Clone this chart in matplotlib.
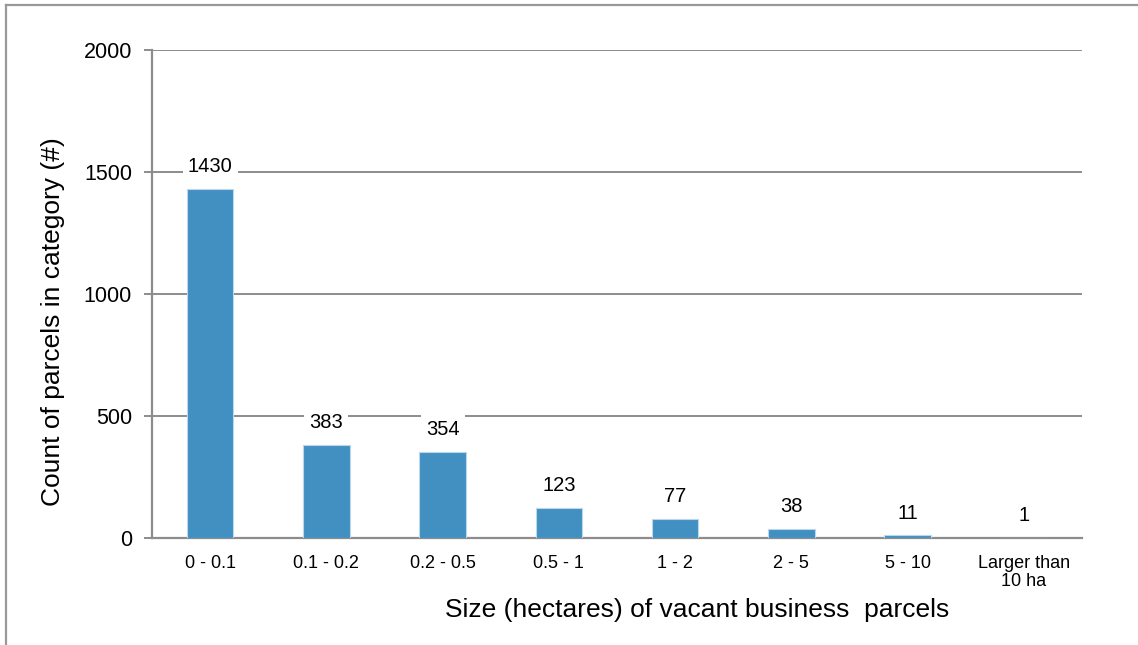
import numpy as np
import matplotlib.pyplot as plt
from matplotlib.lines import Line2D

plt.rcParams['font.family'] = ['Liberation Sans', 'DejaVu Sans']

categories = ["0 - 0.1", "0.1 - 0.2", "0.2 - 0.5", "0.5 - 1", "1 - 2",
              "2 - 5", "5 - 10", "Larger than\n10 ha"]
counts = [1430, 383, 354, 123, 77, 38, 11, 1]
y_ticks = [0, 500, 1000, 1500, 2000]

BAR_COLOR = "#4190c1"
GRID_COLOR = "#8c8c8c"

fig = plt.figure(figsize=(11.38, 6.45), dpi=100)
ax = fig.add_axes([0.1336, 0.1659, 0.8172, 0.7566])

x = np.arange(len(categories))
ax.bar(x, counts, width=0.40, color=BAR_COLOR, edgecolor="#bcd6ea",
       linewidth=0.8, zorder=3)

ax.set_xlim(-0.5, len(categories) - 0.5)
ax.set_ylim(0, 2000)
ax.set_yticks(y_ticks)
ax.set_yticklabels([str(v) for v in y_ticks], fontsize=15.5)
ax.set_xticks(x)
ax.set_xticklabels(categories, fontsize=13, linespacing=1.1, va="top")

ax.yaxis.grid(True, color=GRID_COLOR, linewidth=1.4, zorder=0)
ax.set_axisbelow(True)
for side in ["top", "right"]:
    ax.spines[side].set_visible(False)
for side in ["left", "bottom"]:
    ax.spines[side].set_color(GRID_COLOR)
    ax.spines[side].set_linewidth(1.6)
ax.tick_params(axis="y", length=6, width=1.4, color=GRID_COLOR, pad=8.5)
ax.tick_params(axis="x", length=0, pad=12)

for xi, v in zip(x, counts):
    ax.annotate(str(v), (xi, v), xytext=(0, 16), textcoords="offset points",
                ha="center", va="center", fontsize=14.5, zorder=4,
                bbox=dict(boxstyle="square,pad=0.25", fc="white", ec="none"))

ax.set_ylabel("Count of parcels in category (#)", fontsize=19)
ax.yaxis.set_label_coords(-0.094, 0.443)
ax.set_xlabel("Size (hectares) of vacant business  parcels", fontsize=19)
ax.xaxis.set_label_coords(0.586, -0.123)

# outer frame (top and left only visible)
fig.add_artist(Line2D([0.0053, 0.9995], [0.9922, 0.9922], color="#999999",
                      linewidth=1.6, transform=fig.transFigure))
fig.add_artist(Line2D([0.0053, 0.0053], [0.0, 0.9922], color="#999999",
                      linewidth=1.6, transform=fig.transFigure))

fig.savefig("out.png", dpi=100)
